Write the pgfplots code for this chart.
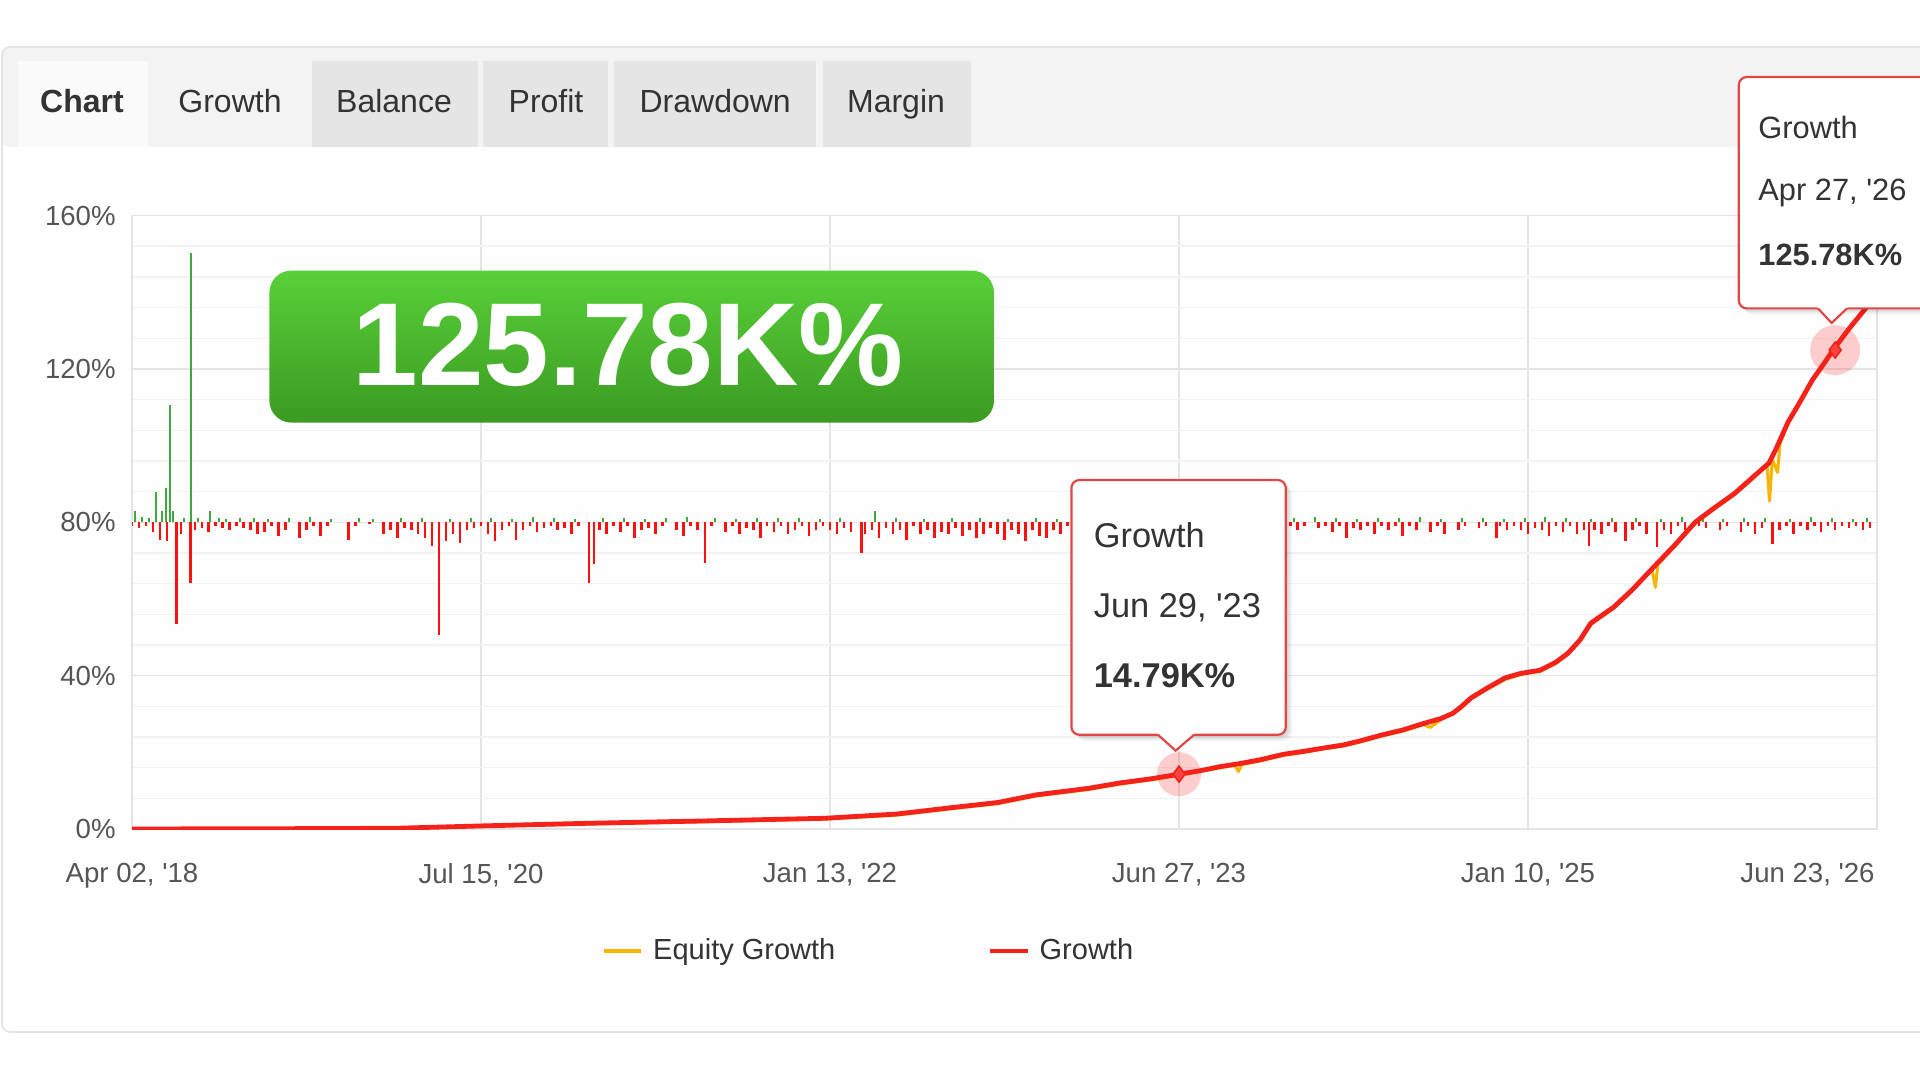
\documentclass[border=0pt]{standalone}
\usepackage{fontspec}
\setmainfont{Liberation Sans}
\usepackage{pgfplots}
\pgfplotsset{compat=1.18}
\definecolor{gred}{HTML}{F5221B}
\definecolor{eqor}{HTML}{F7B500}
\definecolor{barred}{HTML}{FF1010}
\definecolor{bargreen}{HTML}{3DAA3D}
\definecolor{gridc}{HTML}{E4E4E4}
\definecolor{minorc}{HTML}{F2F2F2}
\definecolor{tickc}{HTML}{555555}
\definecolor{txt}{HTML}{333333}
\definecolor{tabgray}{HTML}{E5E5E5}
\definecolor{tabbar}{HTML}{F3F3F3}
\definecolor{tabwhite}{HTML}{FAFAFA}
\definecolor{panelb}{HTML}{E3E3E3}
\definecolor{bantop}{HTML}{58D038}
\definecolor{banbot}{HTML}{3B9A22}
\definecolor{tipborder}{HTML}{E04848}

\pgfplotstableread[row sep=\\]{
x y\\
0 0\\ 0.25 0.05\\ 0.50 0.1\\ 0.76 0.2\\ 1.00 0.8\\ 1.31 1.5\\ 1.64 2.1\\ 1.985 2.8\\
2.19 3.9\\ 2.37 5.8\\ 2.48 6.9\\ 2.59 8.9\\ 2.74 10.6\\ 2.83 12.0\\ 2.92 13.1\\ 3.00 14.3\\
3.06 15.2\\ 3.12 16.3\\ 3.17 17.0\\ 3.23 18.0\\ 3.30 19.5\\ 3.36 20.3\\ 3.42 21.2\\ 3.47 21.9\\
3.52 23.0\\ 3.58 24.5\\ 3.64 25.8\\ 3.70 27.5\\ 3.75 28.8\\ 3.785 30.2\\ 3.81 32.0\\ 3.837 34.2\\
3.88 36.6\\ 3.934 39.4\\ 3.98 40.6\\ 4.034 41.4\\ 4.08 43.5\\ 4.115 45.9\\ 4.149 49.3\\ 4.18 53.7\\
4.21 55.6\\ 4.246 57.9\\ 4.30 62.5\\ 4.36 68.3\\ 4.42 74.0\\ 4.479 80.0\\ 4.53 83.5\\ 4.593 87.6\\
4.64 91.4\\ 4.69 95.4\\ 4.71 99.0\\ 4.745 106.1\\ 4.78 111.5\\ 4.814 117.0\\ 4.845 121.0\\ 4.874 124.9\\
4.92 130.5\\ 4.97 136.1\\ 5.00 140.0\\
}\growth

\pgfplotstableread[row sep=\\]{
x y\\
0 0\\ 0.25 0.05\\ 0.50 0.1\\ 0.76 0.2\\ 1.00 0.7\\ 1.31 1.3\\ 1.64 1.9\\ 1.985 2.6\\
2.19 3.6\\ 2.37 5.5\\ 2.48 6.6\\ 2.59 8.6\\ 2.74 10.3\\ 2.83 11.7\\ 2.92 12.8\\ 3.00 14.0\\
3.06 15.0\\ 3.12 16.0\\ 3.16 16.6\\ 3.17 15.0\\ 3.18 16.8\\ 3.23 17.7\\ 3.30 19.2\\ 3.36 20.0\\
3.42 21.0\\ 3.47 21.6\\ 3.52 22.7\\ 3.58 24.2\\ 3.64 25.5\\ 3.70 27.2\\ 3.72 26.5\\ 3.75 28.5\\
3.785 30.0\\ 3.81 31.7\\ 3.837 34.0\\ 3.88 36.3\\ 3.934 39.0\\ 3.98 40.3\\ 4.034 41.1\\ 4.08 43.2\\
4.115 45.6\\ 4.149 49.0\\ 4.18 53.3\\ 4.21 55.3\\ 4.246 57.6\\ 4.30 62.2\\ 4.355 67.8\\ 4.365 63.0\\
4.372 69.0\\ 4.42 73.7\\ 4.479 79.7\\ 4.53 83.2\\ 4.593 87.3\\ 4.64 91.1\\ 4.685 95.0\\ 4.692 85.5\\
4.700 96.5\\ 4.715 93.0\\ 4.722 100.5\\ 4.745 105.8\\ 4.78 111.2\\ 4.814 116.7\\ 4.845 120.7\\ 4.874 124.6\\
4.92 130.2\\ 4.97 135.8\\ 5.00 139.7\\
}\equity

\pgfplotstableread[row sep=\\]{
x y\\
0.00 -1\\ 0.02 -1.5\\ 0.04 -1\\ 0.06 -2.5\\ 0.08 -4.5\\ 0.10 -5\\ 0.128 -26.5\\ 0.14 -3\\ 0.168 -15.8\\ 0.18 -2\\
0.20 -1.5\\ 0.22 -2.5\\ 0.24 -1\\ 0.26 -1.5\\ 0.28 -2\\ 0.30 -1\\ 0.32 -1.5\\ 0.34 -2\\ 0.36 -3\\ 0.38 -2.5\\
0.40 -1\\ 0.42 -3.5\\ 0.44 -2\\ 0.46 0\\ 0.48 -4\\ 0.50 -2\\ 0.52 -1\\ 0.54 -3.5\\ 0.56 -1\\ 0.58 0\\
0.60 0\\ 0.62 -4.5\\ 0.64 -1\\ 0.66 0\\ 0.68 -0.5\\ 0.70 0\\ 0.72 -3\\ 0.74 -2\\ 0.76 -4\\ 0.78 -1.5\\
0.80 -2\\ 0.82 -3\\ 0.84 -4\\ 0.86 -6.3\\ 0.88 -29.4\\ 0.90 -5\\ 0.92 -3\\ 0.94 -5.5\\ 0.96 -2\\ 0.98 -1.5\\
1.00 -1\\ 1.02 -3\\ 1.04 -5\\ 1.06 -2\\ 1.08 -1\\ 1.10 -4.5\\ 1.12 -2\\ 1.14 -1\\ 1.16 -2.5\\ 1.18 -1.5\\
1.20 -1\\ 1.22 -2\\ 1.24 -1.5\\ 1.26 -3\\ 1.28 -1\\ 1.31 -15.8\\ 1.324 -10.8\\ 1.34 -2\\ 1.36 -3\\ 1.38 -1\\
1.40 -2.5\\ 1.42 -1\\ 1.44 -4\\ 1.46 -2\\ 1.48 -1.5\\ 1.50 -3\\ 1.52 -1\\ 1.54 0\\ 1.56 -2\\ 1.58 -3.5\\
1.60 -1\\ 1.62 -2\\ 1.642 -10.7\\ 1.66 -1\\ 1.68 0\\ 1.70 -2.5\\ 1.72 -1\\ 1.74 -3\\ 1.76 -1.5\\ 1.78 -2\\
1.80 -4\\ 1.82 -1\\ 1.84 -2.5\\ 1.86 -1\\ 1.88 -3\\ 1.90 -2\\ 1.92 -1\\ 1.94 -3.5\\ 1.96 -2\\ 1.98 -1\\
2.00 -2\\ 2.02 -3\\ 2.04 -1.5\\ 2.06 -2.5\\ 2.09 -8\\ 2.10 -3\\ 2.12 -2\\ 2.14 -4\\ 2.16 -1.5\\ 2.18 -3\\
2.20 -2\\ 2.22 -4.5\\ 2.24 -1\\ 2.26 -3\\ 2.28 -2\\ 2.30 -4\\ 2.32 -2.5\\ 2.34 -3\\ 2.36 -1.5\\ 2.38 -3.5\\
2.40 -2\\ 2.42 -4\\ 2.44 -3\\ 2.46 -1.5\\ 2.48 -3\\ 2.50 -4.5\\ 2.52 -2\\ 2.54 -3\\ 2.56 -5\\ 2.58 -2\\
2.60 -3.5\\ 2.62 -4\\ 2.64 -2\\ 2.66 -3\\ 2.68 -1\\
3.32 -1\\ 3.34 -2\\ 3.36 -1\\ 3.38 0\\ 3.40 -1.5\\ 3.42 -1\\ 3.44 -2.5\\ 3.46 -1\\ 3.48 -4\\ 3.50 -1.5\\
3.52 -2\\ 3.54 -1\\ 3.56 -3\\ 3.58 -1\\ 3.60 -2\\ 3.62 -1\\ 3.64 -3.5\\ 3.66 -1\\ 3.68 -2\\ 3.70 0\\
3.72 -2.5\\ 3.74 -1\\ 3.76 -3\\ 3.78 0\\ 3.80 -2\\ 3.82 -1\\ 3.84 0\\ 3.86 -1.5\\ 3.88 -1\\ 3.91 -4\\
3.92 -1\\ 3.94 -2\\ 3.96 -1\\ 3.98 -2\\ 4.00 -3\\ 4.02 -1.5\\ 4.04 -2\\ 4.06 -3.5\\ 4.08 -1\\ 4.10 -2.5\\
4.12 -1\\ 4.14 -3\\ 4.16 -2\\ 4.175 -6.2\\ 4.19 -2\\ 4.21 -3\\ 4.23 -1\\ 4.25 -2.5\\ 4.28 -5\\ 4.30 -2\\
4.32 -1\\ 4.34 -3\\ 4.37 -6.5\\ 4.39 -2\\ 4.41 -3\\ 4.43 -1\\ 4.45 -2\\ 4.47 0\\ 4.49 -1\\ 4.51 -1.5\\
4.53 0\\ 4.55 -2\\ 4.57 -1\\ 4.59 0\\ 4.61 -2.5\\ 4.63 -1\\ 4.65 -3\\ 4.67 -1.5\\ 4.70 -5.7\\ 4.72 -2\\
4.74 -1\\ 4.76 -3\\ 4.78 -1\\ 4.80 -2\\ 4.82 -1\\ 4.84 -2.5\\ 4.86 -1\\ 4.88 -2\\ 4.90 -1\\ 4.92 -1.5\\
4.94 -1\\ 4.96 -2\\ 4.98 -1.5\\
}\redbars

\pgfplotstableread[row sep=\\]{
x y\\
0.009 3\\ 0.03 1.5\\ 0.05 1\\ 0.069 8\\ 0.085 3\\ 0.097 9\\ 0.109 30.5\\ 0.118 3\\ 0.15 1\\ 0.168 70.3\\
0.19 1\\ 0.223 3\\ 0.25 1\\ 0.27 0.8\\ 0.31 1\\ 0.35 1.2\\ 0.39 0.8\\ 0.45 1\\ 0.51 1.5\\ 0.57 0.8\\
0.65 1\\ 0.69 0.8\\ 0.77 1.2\\ 0.83 1\\ 0.91 0.8\\ 0.97 1\\ 1.03 1.2\\ 1.09 0.8\\ 1.15 1.5\\ 1.21 1\\
1.27 0.8\\ 1.35 1\\ 1.41 1.2\\ 1.47 0.8\\ 1.53 1\\ 1.59 1.5\\ 1.67 1\\ 1.73 0.8\\ 1.79 1\\ 1.85 1.2\\
1.91 1\\ 1.97 0.8\\ 2.03 1\\ 2.13 3\\ 2.19 1\\ 2.27 0.8\\ 2.35 1\\ 2.43 1.2\\ 2.51 0.8\\ 2.59 1\\
2.65 0.8\\ 3.33 1\\ 3.39 1.5\\ 3.45 1\\ 3.51 0.8\\ 3.57 1.2\\ 3.63 1\\ 3.69 1.5\\ 3.75 0.8\\ 3.81 1\\
3.87 1.2\\ 3.93 0.8\\ 3.99 1\\ 4.05 1.5\\ 4.11 1\\ 4.18 0.8\\ 4.24 1.2\\ 4.31 1\\ 4.38 0.8\\ 4.44 1.5\\
4.50 1\\ 4.56 0.8\\ 4.62 1.2\\ 4.68 1\\ 4.75 0.8\\ 4.81 1.5\\ 4.87 1\\ 4.93 0.8\\ 4.97 1\\
}\greenbars

\begin{document}
\begin{tikzpicture}
\path[use as bounding box] (0pt,0pt) rectangle (960pt,-540pt);
\clip (0pt,0pt) rectangle (960pt,-540pt);
\fill[white] (0pt,0pt) rectangle (960pt,-540pt);
% panel
\fill[white!99.5!black, rounded corners=4pt] (1pt,-23.5pt) rectangle (975pt,-516pt);
\fill[tabbar, rounded corners=4pt] (1pt,-23.5pt) rectangle (975pt,-73.5pt);
\fill[tabwhite] (9pt,-30.5pt) rectangle (74pt,-73.5pt);
\fill[tabgray] (156pt,-30.5pt) rectangle (239pt,-73.5pt);
\fill[tabgray] (241.5pt,-30.5pt) rectangle (304pt,-73.5pt);
\fill[tabgray] (307pt,-30.5pt) rectangle (408pt,-73.5pt);
\fill[tabgray] (411.5pt,-30.5pt) rectangle (485.5pt,-73.5pt);
\draw[panelb, line width=0.8pt, rounded corners=4pt] (1pt,-23.5pt) rectangle (975pt,-516pt);
\begin{scope}[every node/.style={inner sep=0pt, anchor=base, text=txt, font=\fontsize{16}{18}\selectfont}]
\node at (41pt,-56.5pt) {\bfseries Chart};
\node at (115pt,-56.5pt) {Growth};
\node at (197pt,-56.5pt) {Balance};
\node at (273pt,-56.5pt) {Profit};
\node at (357.6pt,-56.5pt) {Drawdown};
\node at (448pt,-56.5pt) {Margin};
\end{scope}

% axis 1: grid, labels, bars, legend
\begin{axis}[
  at={(66pt,-414.5pt)}, anchor=south west, scale only axis,
  width=872.5pt, height=306.75pt,
  xmin=0, xmax=5, ymin=-80, ymax=80,
  xtick={0,1,2,3,4},
  xticklabels={{Apr 02, \textquotesingle18},{Jul 15, \textquotesingle20},{Jan 13, \textquotesingle22},{Jun 27, \textquotesingle23},{Jan 10, \textquotesingle25}},
  extra x ticks={5},
  extra x tick labels={Jun 23{,} \textquotesingle26},
  extra x tick style={grid=major, xticklabel style={anchor=north east, xshift=-1pt}},
  ytick={-80,-40,0,40,80},
  yticklabels={0\%,40\%,80\%,120\%,160\%},
  minor y tick num=4,
  xmajorgrids, ymajorgrids, yminorgrids,
  major grid style={draw=gridc, line width=0.7pt},
  minor grid style={draw=minorc, line width=0.7pt},
  axis line style={draw=gridc, line width=0.7pt},
  major tick length=0pt, minor tick length=0pt,
  tick style={draw=none},
  ticklabel style={font=\fontsize{13.8}{16}\selectfont, text=tickc, inner sep=0pt},
  xticklabel style={anchor=north, yshift=-17pt},
  yticklabel style={anchor=east, xshift=-8pt},
  legend columns=2,
  legend style={at={(0.2693,-0.1985)}, anchor=west, draw=none, fill=none,
    inner sep=0pt, outer sep=0pt, font=\fontsize{14.5}{16}\selectfont, text=txt,
    nodes={inner sep=0pt},
    /tikz/every odd column/.append style={column sep=5pt},
    /tikz/every even column/.append style={column sep=76.5pt}},
  legend image code/.code={\draw[#1] (0pt,0pt) -- (18.75pt,0pt);},
]
\addplot[ycomb, bargreen, line width=1pt, forget plot] table {\greenbars};
\addplot[ycomb, barred, line width=1.3pt, forget plot] table {\redbars};
\addlegendimage{eqor, line width=1.9pt}
\addlegendentry{Equity Growth}
\addlegendimage{gred, line width=1.9pt}
\addlegendentry{Growth}
\end{axis}

% axis 2: growth curves
\begin{axis}[
  at={(66pt,-414.5pt)}, anchor=south west, scale only axis,
  width=872.5pt, height=306.75pt,
  xmin=0, xmax=5, ymin=0, ymax=160, hide axis,
]
\addplot[eqor, line width=1.5pt, line join=round] table {\equity};
\addplot[gred, line width=2.4pt, line join=round] table {\growth};
\addplot[only marks, color=gred, mark=*, mark size=11pt, mark options={draw opacity=0, fill=gred, fill opacity=0.22}] coordinates {(3.0,14.3)};
\addplot[only marks, color=gred, mark=*, mark size=12.5pt, mark options={draw opacity=0, fill=gred, fill opacity=0.22}] coordinates {(4.88,124.9)};
\addplot[only marks, color=gred, mark=diamond*, mark size=4pt, mark options={draw=gred, fill=gred!85, line width=0.8pt}] coordinates {(3.0,14.3) (4.88,124.9)};
\end{axis}

% banner
\shade[top color=bantop, bottom color=banbot, rounded corners=11pt] (134.7pt,-135.3pt) rectangle (497pt,-211.3pt);
\node[text=white, inner sep=0pt, font=\bfseries\fontsize{59}{61}\selectfont] at (314pt,-172.4pt) {125.78K\%};

% tooltip 1
\foreach \o/\a in {3/0.05,2/0.06,1/0.07}{
  \fill[black, opacity=\a, rounded corners=4pt] ([xshift=\o pt, yshift=-\o pt]535.7pt,-240pt) rectangle ([xshift=\o pt, yshift=-\o pt]642.9pt,-367.4pt);
}
\draw[tipborder, line width=1.1pt, fill=white, rounded corners=4pt] (535.7pt,-240pt) rectangle (642.9pt,-367.4pt);
\fill[white] (578.5pt,-366.6pt) -- (587.8pt,-374.8pt) -- (597.5pt,-366.6pt) -- cycle;
\draw[tipborder, line width=1.1pt, line join=miter] (579pt,-367.4pt) -- (587.8pt,-375.3pt) -- (597pt,-367.4pt);
\begin{scope}[every node/.style={inner sep=0pt, anchor=base west, text=txt, font=\fontsize{17.2}{19}\selectfont}]
\node at (546.7pt,-273.7pt) {Growth};
\node at (546.7pt,-308.7pt) {Jun 29, \textquotesingle23};
\node at (546.7pt,-343.6pt) {\bfseries 14.79K\%};
\end{scope}

% tooltip 2
\foreach \o/\a in {3/0.05,2/0.06,1/0.07}{
  \fill[black, opacity=\a, rounded corners=4pt] ([xshift=\o pt, yshift=-\o pt]869.4pt,-38.5pt) rectangle ([xshift=\o pt, yshift=-\o pt]980pt,-154.2pt);
}
\draw[tipborder, line width=1.1pt, fill=white, rounded corners=4pt] (869.4pt,-38.5pt) rectangle (980pt,-154.2pt);
\fill[white] (908.5pt,-153.4pt) -- (915.8pt,-161pt) -- (924pt,-153.4pt) -- cycle;
\draw[tipborder, line width=1.1pt, line join=miter] (909pt,-154.2pt) -- (915.8pt,-161.5pt) -- (923.5pt,-154.2pt);
\begin{scope}[every node/.style={inner sep=0pt, anchor=base west, text=txt, font=\fontsize{15.4}{17}\selectfont}]
\node at (879pt,-69.5pt) {Growth};
\node at (879pt,-100.5pt) {Apr 27, \textquotesingle26};
\node at (879pt,-133pt) {\bfseries 125.78K\%};
\end{scope}
\end{tikzpicture}
\end{document}
